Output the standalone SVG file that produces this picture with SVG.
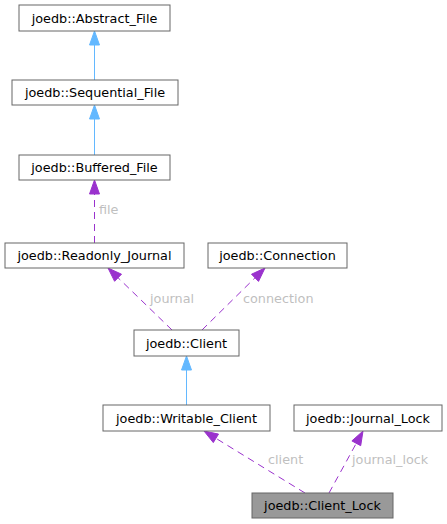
<svg xmlns="http://www.w3.org/2000/svg" width="447" height="524" viewBox="0 0 447 524">
<style>
.box{fill:#ffffff;stroke:#666666;stroke-width:1}
.cur{fill:#999999;stroke:#666666;stroke-width:1}
.nt{font-family:"DejaVu Sans",sans-serif;font-size:12.8px;fill:#000000;text-anchor:middle}
.lt{font-family:"DejaVu Sans",sans-serif;font-size:12.8px;fill:#bfbfbf}
.inh{stroke:#63b8ff;stroke-width:1;fill:none}
.inhA{fill:#63b8ff;stroke:#63b8ff}
.use{stroke:#9a32cd;stroke-width:1;fill:none;stroke-dasharray:7,5}
.useA{fill:#9a32cd;stroke:#9a32cd}
</style>
<rect width="447" height="524" fill="#ffffff"/>
<g id="connectors">
<line class="inh" x1="94.5" y1="80" x2="94.5" y2="44"/>
<polygon class="inhA" points="94.5,31 89.5,45 99.5,45"/>
<line class="inh" x1="94.5" y1="155" x2="94.5" y2="119"/>
<polygon class="inhA" points="94.5,105 89.5,119 99.5,119"/>
<line class="use" x1="94.5" y1="243" x2="94.5" y2="194"/>
<polygon class="useA" points="94.5,180 89.5,194 99.5,194"/>
<text class="lt" x="99" y="214">file</text>
<line class="use" x1="172" y1="330" x2="118" y2="277.7"/>
<polygon class="useA" points="108,268 121.5,274.2 114.6,281.3"/>
<text class="lt" x="150" y="303">journal</text>
<line class="use" x1="202" y1="330" x2="255" y2="277.8"/>
<polygon class="useA" points="265,268 258.5,281.4 251.5,274.2"/>
<text class="lt" x="243" y="303">connection</text>
<line class="inh" x1="186.5" y1="405" x2="186.5" y2="370"/>
<polygon class="inhA" points="186.5,356 181.5,370 191.5,370"/>
<line class="use" x1="305" y1="493" x2="215.9" y2="438.3"/>
<polygon class="useA" points="204,431 218.5,434.1 213.3,442.6"/>
<text class="lt" x="268" y="464">client</text>
<line class="use" x1="329" y1="493" x2="356.3" y2="443.3"/>
<polygon class="useA" points="363,431 360.7,445.7 351.9,440.9"/>
<text class="lt" x="352" y="464">journal_lock</text>
</g>
<g id="Abstract_File"><rect class="box" x="19" y="5" width="151" height="26"/><text class="nt" x="94.5" y="22.5">joedb::Abstract_File</text></g>
<g id="Sequential_File"><rect class="box" x="12" y="80" width="166" height="25"/><text class="nt" x="95" y="97">joedb::Sequential_File</text></g>
<g id="Buffered_File"><rect class="box" x="19" y="155" width="151" height="25"/><text class="nt" x="94.5" y="172">joedb::Buffered_File</text></g>
<g id="Readonly_Journal"><rect class="box" x="5" y="243" width="179" height="25"/><text class="nt" x="94.5" y="260">joedb::Readonly_Journal</text></g>
<g id="Connection"><rect class="box" x="208" y="243" width="139" height="25"/><text class="nt" x="277.5" y="260">joedb::Connection</text></g>
<g id="Client"><rect class="box" x="134" y="330" width="105" height="26"/><text class="nt" x="186.5" y="347.5">joedb::Client</text></g>
<g id="Writable_Client"><rect class="box" x="103" y="405" width="167" height="26"/><text class="nt" x="186.5" y="422.5">joedb::Writable_Client</text></g>
<g id="Journal_Lock"><rect class="box" x="294" y="405" width="148" height="26"/><text class="nt" x="368" y="422.5">joedb::Journal_Lock</text></g>
<g id="Client_Lock"><rect class="cur" x="252" y="493" width="141" height="25"/><text class="nt" x="322.5" y="510">joedb::Client_Lock</text></g>
</svg>
